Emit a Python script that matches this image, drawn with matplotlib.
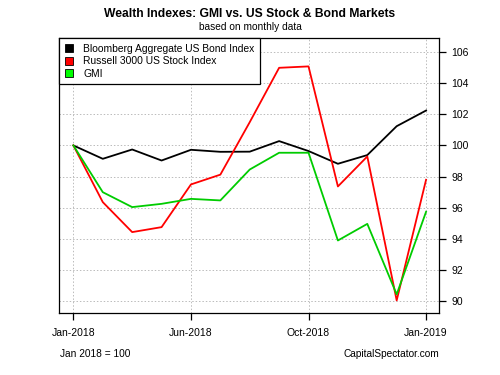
import matplotlib
matplotlib.use("Agg")
import matplotlib.pyplot as plt
from matplotlib.lines import Line2D

plt.rcParams["font.family"] = ["Liberation Sans", "DejaVu Sans"]

# monthly index values, Jan 2018 = 100
months = list(range(13))
bond = [100.0, 99.14, 99.74, 99.03, 99.72, 99.59, 99.6, 100.28, 99.64, 98.82, 99.38, 101.24, 102.25]
stock = [100.0, 96.35, 94.42, 94.74, 97.49, 98.12, 101.5, 105.0, 105.09, 97.36, 99.29, 90.02, 97.79]
gmi = [100.0, 96.99, 96.03, 96.24, 96.56, 96.46, 98.45, 99.53, 99.53, 93.88, 94.95, 90.41, 95.73]

tick_pos = [0, 4, 8, 12]
tick_labels = ["Jan-2018", "Jun-2018", "Oct-2018", "Jan-2019"]
y_ticks = [90, 92, 94, 96, 98, 100, 102, 104, 106]

series_names = ["Bloomberg Aggregate US Bond Index", "Russell 3000 US Stock Index", "GMI"]
line_colors = ["black", "#ff0000", "#00cc00"]
patch_colors = ["black", "#ff0000", "#00ff00"]


def main():
    fig = plt.figure(figsize=(5, 3.75), dpi=100)
    ax = fig.add_axes([0.118, 0.1653, 0.76, 0.7334])

    for vals, col in zip([bond, stock, gmi], line_colors):
        ax.plot(months, vals, color=col, lw=1.3, zorder=3)

    ax.set_xlim(-0.49, 12.44)
    ax.set_ylim(89.21, 106.92)

    ax.set_xticks(tick_pos)
    ax.set_xticklabels(tick_labels)
    ax.set_yticks(y_ticks)
    ax.yaxis.tick_right()
    ax.tick_params(axis="y", direction="out", length=5, width=0.9, pad=4, labelsize=7.5)
    ax.tick_params(axis="x", direction="out", length=5, width=0.9, pad=6, labelsize=7.5)
    ax.grid(True, color="#bbbbbb", linestyle=(0, (1.5, 2)), lw=0.7)
    for sp in ax.spines.values():
        sp.set_linewidth(0.9)

    handles = [
        Line2D([], [], linestyle="none", marker="s", markersize=5.5,
               markerfacecolor=c, markeredgecolor="black", markeredgewidth=0.6)
        for c in patch_colors
    ]
    leg = ax.legend(handles, series_names, loc="upper left", bbox_to_anchor=(0, 1),
                    borderaxespad=0, fontsize=7.4, frameon=True, fancybox=False,
                    handlelength=0.9, handletextpad=0.9, labelspacing=0.25,
                    borderpad=0.55)
    leg.get_frame().set_edgecolor("black")
    leg.get_frame().set_linewidth(0.9)
    leg.get_frame().set_alpha(1)

    fig.text(250, 375 - 14, "Wealth Indexes: GMI vs. US Stock & Bond Markets",
             transform=None, ha="center", va="center", fontsize=8.7, fontweight="bold")
    fig.text(250, 375 - 27, "based on monthly data", transform=None,
             ha="center", va="center", fontsize=7.3)
    fig.text(60, 375 - 354, "Jan 2018 = 100", transform=None,
             ha="left", va="center", fontsize=7.3)
    fig.text(439, 375 - 354, "CapitalSpectator.com", transform=None,
             ha="right", va="center", fontsize=7.3)

    fig.savefig("out.png", dpi=100)
    plt.close(fig)


if __name__ == "__main__":
    main()
